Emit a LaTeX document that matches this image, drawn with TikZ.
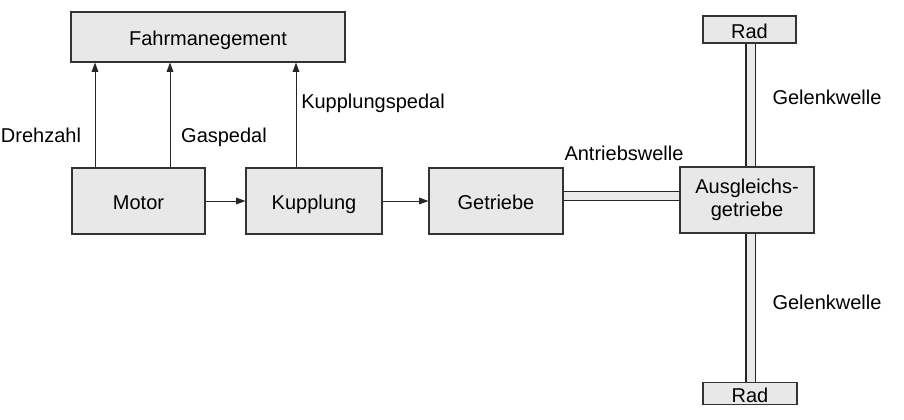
\documentclass[tikz,border=0pt]{standalone}
\usepackage{fontspec}
\setmainfont{Liberation Sans}
\usetikzlibrary{arrows.meta}
\begin{document}
\begin{tikzpicture}[x=0.75pt,y=-0.75pt,
  box/.style={draw=black!80, line width=0.8pt, fill=black!9, inner sep=0pt, align=center, font=\fontsize{15}{17}\selectfont},
  onel/.style={text height=13pt, text depth=0pt},
  lbl/.style={inner sep=0pt, font=\fontsize{15}{17}\selectfont},
  arr/.style={draw=black!85, line width=0.7pt, -{Triangle[length=7pt,width=5pt]}},
  shaft/.style={draw=black!85, line width=0.8pt, double=black!8, double distance=6pt}]
\useasboundingbox (0,0) rectangle (904,419);
\node[box, onel, minimum width=274*0.75pt, minimum height=50*0.75pt] (fm) at (208,37) {Fahrmanegement};
\node[box, onel, minimum width=133*0.75pt, minimum height=66*0.75pt] (motor) at (138.5,201) {Motor};
\node[box, onel, minimum width=136*0.75pt, minimum height=66*0.75pt] (kupp) at (314,201) {Kupplung};
\node[box, onel, minimum width=134*0.75pt, minimum height=66*0.75pt] (getr) at (496,201) {Getriebe};
\node[box, minimum width=134*0.75pt, minimum height=66*0.75pt] (ausg) at (747,200) {Ausgleichs-\\getriebe};
\node[box, onel, minimum width=93*0.75pt, minimum height=27*0.75pt] (radT) at (749.5,29.5) {Rad};
\node[box, onel, minimum width=94*0.75pt, minimum height=22*0.75pt] (radB) at (750,393.5) {Rad};
\coordinate (c1) at (95,0);
\coordinate (c2) at (170,0);
\coordinate (c3) at (296,0);
\coordinate (cv) at (750.5,0);
\coordinate (ch) at (0,196);
\draw[arr] (motor.north -| c1) -- (fm.south -| c1);
\draw[arr] (motor.north -| c2) -- (fm.south -| c2);
\draw[arr] (kupp.north -| c3) -- (fm.south -| c3);
\draw[arr] (motor.east) -- (kupp.west);
\draw[arr] (kupp.east) -- (getr.west);
\draw[shaft] (getr.east |- ch) -- (ausg.west |- ch);
\draw[shaft] (radT.south -| cv) -- (ausg.north -| cv);
\draw[shaft] (ausg.south -| cv) -- (radB.north -| cv);
\node[lbl] (l1) at (41,135) {Drehzahl};
\node[lbl] (l2) at (224,137) {Gaspedal};
\node[lbl] (l3) at (373,103) {Kupplungspedal};
\node[lbl] (l4) at (624,153) {Antriebswelle};
\node[lbl] (l5) at (827,97) {Gelenkwelle};
\node[lbl] (l6) at (827,302) {Gelenkwelle};
\end{tikzpicture}
\end{document}
